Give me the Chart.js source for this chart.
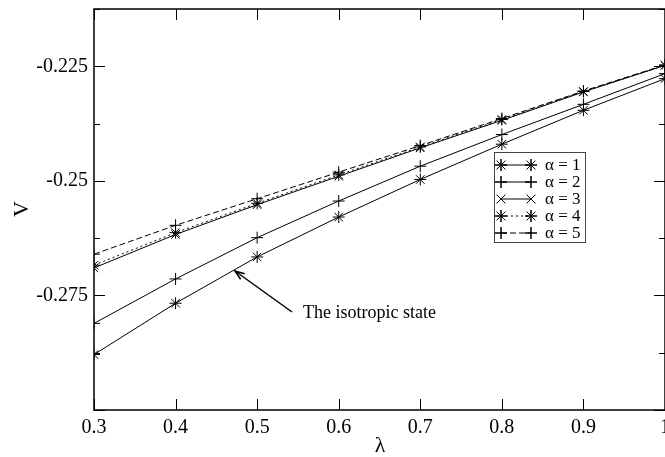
<!DOCTYPE html>
<html>
<head>
<meta charset="utf-8">
<script src="https://cdn.jsdelivr.net/npm/chart.js@4.4.1/dist/chart.umd.min.js"></script>
<style>
  html, body { margin: 0; padding: 0; background: #fff; }
  canvas { display: block; }
</style>
</head>
<body>
<canvas id="chart" width="665" height="457"></canvas>
<script>
// values
const lambda = [0.3, 0.4, 0.5, 0.6, 0.7, 0.8, 0.9, 1.0]
const alpha1 = [-0.2879, -0.2767, -0.2666, -0.2579, -0.2497, -0.2420, -0.2346, -0.2277]
const alpha2 = [-0.2811, -0.2714, -0.2624, -0.2544, -0.2468, -0.2399, -0.2333, -0.2266]
const alpha3 = [-0.2690, -0.2617, -0.2552, -0.2490, -0.2428, -0.2368, -0.2306, -0.2248]
const alpha4 = [-0.2684, -0.2613, -0.2549, -0.2487, -0.2426, -0.2366, -0.2305, -0.2248]
const alpha5 = [-0.2660, -0.2597, -0.2539, -0.2481, -0.2423, -0.2364, -0.2304, -0.2247]
const seriesNames = ['α = 1', 'α = 2', 'α = 3', 'α = 4', 'α = 5']

const xTicks = [0.3, 0.4, 0.5, 0.6, 0.7, 0.8, 0.9, 1.0]
const xTickLabels = ['0.3', '0.4', '0.5', '0.6', '0.7', '0.8', '0.9', '1']
const yMajorTicks = [-0.3, -0.275, -0.25, -0.225]
const yTickLabels = ['', '-0.275', '-0.25', '-0.225']
const yMinorTicks = [-0.2875, -0.2625, -0.2375, -0.2125]

const annotationText = 'The isotropic state'

const styles = [
  { pointStyle: 'star', borderDash: [] },
  { pointStyle: 'cross', borderDash: [] },
  { pointStyle: 'crossRot', borderDash: [] },
  { pointStyle: 'star', borderDash: [2, 3] },
  { pointStyle: 'cross', borderDash: [6, 3] }
]

const allSeries = [alpha1, alpha2, alpha3, alpha4, alpha5]

const datasets = allSeries.map((vals, i) => ({
  label: seriesNames[i],
  data: vals.map((v, j) => ({ x: lambda[j], y: v })),
  borderColor: '#000',
  borderWidth: 1,
  borderDash: styles[i].borderDash,
  backgroundColor: 'transparent',
  pointStyle: styles[i].pointStyle,
  pointRadius: 6,
  pointBorderColor: '#000',
  pointBorderWidth: 1,
  pointBackgroundColor: 'transparent',
  tension: 0
}))

const SERIF = '"Liberation Serif", "DejaVu Serif", serif'

// frame, inward ticks, labels, legend and the arrow note
const framePlugin = {
  id: 'frame',
  afterDraw(chart) {
    const ctx = chart.ctx
    const area = chart.chartArea
    const xs = chart.scales.x
    const ys = chart.scales.y
    ctx.save()
    ctx.strokeStyle = '#000'
    ctx.fillStyle = '#000'
    ctx.setLineDash([])

    ctx.lineWidth = 1.5
    ctx.strokeRect(area.left, area.top, area.right - area.left, area.bottom - area.top)

    ctx.lineWidth = 1
    ctx.beginPath()
    xTicks.forEach(t => {
      const px = Math.round(xs.getPixelForValue(t)) + 0.5
      ctx.moveTo(px, area.bottom); ctx.lineTo(px, area.bottom - 11)
      ctx.moveTo(px, area.top); ctx.lineTo(px, area.top + 11)
    })
    yMajorTicks.forEach(t => {
      const py = Math.round(ys.getPixelForValue(t)) + 0.5
      ctx.moveTo(area.left, py); ctx.lineTo(area.left + 11, py)
      ctx.moveTo(area.right, py); ctx.lineTo(area.right - 11, py)
    })
    yMinorTicks.forEach(t => {
      const py = Math.round(ys.getPixelForValue(t)) + 0.5
      ctx.moveTo(area.left, py); ctx.lineTo(area.left + 6, py)
      ctx.moveTo(area.right, py); ctx.lineTo(area.right - 6, py)
    })
    ctx.stroke()

    ctx.font = '20px ' + SERIF
    ctx.textAlign = 'center'
    ctx.textBaseline = 'top'
    xTicks.forEach((t, i) => {
      ctx.fillText(xTickLabels[i], xs.getPixelForValue(t), area.bottom + 8)
    })
    ctx.textAlign = 'right'
    ctx.textBaseline = 'middle'
    yMajorTicks.forEach((t, i) => {
      ctx.fillText(yTickLabels[i], area.left - 6, ys.getPixelForValue(t))
    })

    // axis titles
    ctx.font = '22px ' + SERIF
    ctx.textAlign = 'center'
    ctx.textBaseline = 'middle'
    ctx.fillText('λ', 380, 446)
    ctx.save()
    ctx.translate(22, 209)
    ctx.rotate(-Math.PI / 2)
    ctx.fillText('V', 0, 0)
    ctx.restore()

    // legend
    ctx.lineWidth = 1
    ctx.strokeStyle = '#444'
    ctx.strokeRect(494.5, 152.5, 91, 90)
    ctx.strokeStyle = '#000'
    ctx.font = '17px ' + SERIF
    ctx.textAlign = 'left'
    datasets.forEach((ds, i) => {
      const y = 165 + i * 17
      ctx.setLineDash(ds.borderDash)
      ctx.beginPath()
      ctx.moveTo(501, y); ctx.lineTo(531, y)
      ctx.stroke()
      ctx.setLineDash([])
      const opts = { pointStyle: ds.pointStyle, radius: 6, rotation: 0, borderWidth: 1 }
      Chart.helpers.drawPoint(ctx, opts, 501, y)
      ctx.stroke()
      Chart.helpers.drawPoint(ctx, opts, 531, y)
      ctx.stroke()
      ctx.fillText(ds.label, 545, y + 1)
    })

    // arrow note
    const tipX = 235, tipY = 271, tailX = 292, tailY = 312
    ctx.lineWidth = 1.5
    ctx.beginPath()
    ctx.moveTo(tailX, tailY); ctx.lineTo(tipX, tipY)
    ctx.stroke()
    const ang = Math.atan2(tailY - tipY, tailX - tipX)
    ctx.beginPath()
    ctx.moveTo(tipX + 10 * Math.cos(ang - 0.35), tipY + 10 * Math.sin(ang - 0.35))
    ctx.lineTo(tipX, tipY)
    ctx.lineTo(tipX + 10 * Math.cos(ang + 0.35), tipY + 10 * Math.sin(ang + 0.35))
    ctx.stroke()
    ctx.font = '18px ' + SERIF
    ctx.textBaseline = 'middle'
    ctx.fillText(annotationText, 303, 313)

    ctx.restore()
  }
}

const ctxV = document.querySelector('#chart')

const myChart = new Chart(ctxV, {
  type: 'line',
  data: { datasets: datasets },
  options: {
    responsive: false,
    devicePixelRatio: 1,
    animation: false,
    layout: { autoPadding: false, padding: { left: 94, right: 0, top: 9, bottom: 47 } },
    plugins: {
      legend: { display: false },
      tooltip: { enabled: false }
    },
    scales: {
      x: { type: 'linear', min: 0.3, max: 1.0, display: false },
      y: { type: 'linear', min: -0.3, max: -0.2125, display: false }
    }
  },
  plugins: [framePlugin]
})
</script>
</body>
</html>
